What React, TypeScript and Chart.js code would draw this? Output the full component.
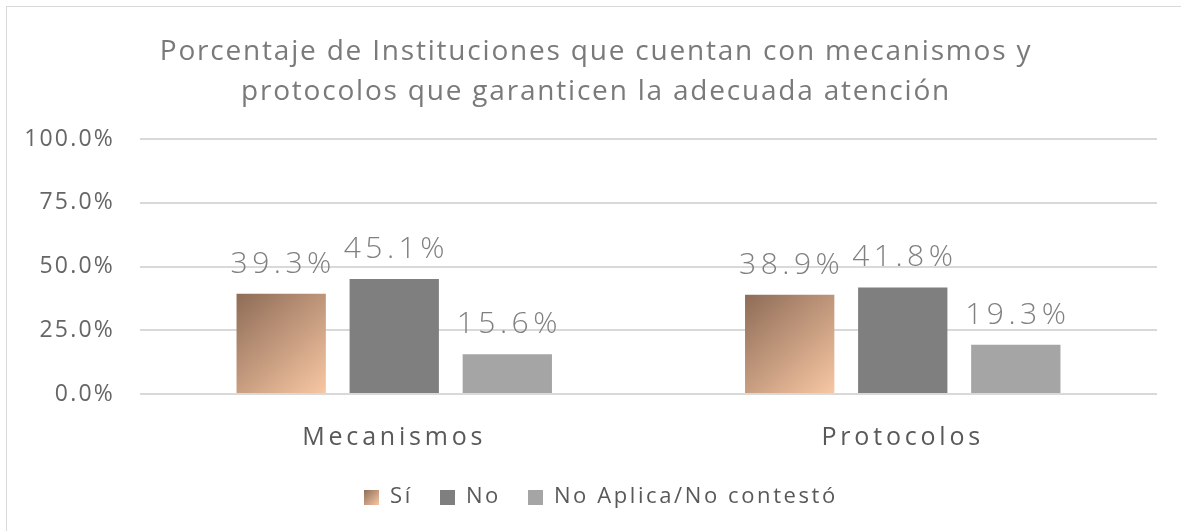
import { useEffect, useRef } from 'react';
import { Chart, registerables } from 'chart.js';

Chart.register(...registerables);

const categories = ['Mecanismos', 'Protocolos'];
const seriesNames = ['Sí', 'No', 'No Aplica/No contestó'];
const siValues = [39.3, 38.9];
const noValues = [45.1, 41.8];
const naValues = [15.6, 19.3];
const titleLines = [
  'Porcentaje de Instituciones que cuentan con mecanismos y',
  'protocolos que garanticen la adecuada atención',
];
const yMax = 100;
const yStep = 25;

const FONT = '"Open Sans", "Noto Sans", sans-serif';
const SI_DARK = '#8e6c57';
const SI_LIGHT = '#f8c7a3';
const NO_COLOR = '#7f7f7f';
const NA_COLOR = '#a5a5a5';

const SPACING = {
  title: '1.8px',
  legend: '2.6px',
  xLabels: '3.8px',
  yLabels: '2.2px',
  data: '4.5px',
};

function makeBox(fill: (ctx: CanvasRenderingContext2D, s: number) => void, size = 15) {
  const c = document.createElement('canvas');
  c.width = size;
  c.height = size;
  const cx = c.getContext('2d')!;
  fill(cx, size);
  return c;
}

function wrapSpacing(obj: any, method: string, spacing: string, dx = 0) {
  if (!obj || typeof obj[method] !== 'function') return;
  const flag = '__spaced_' + method;
  if (obj[flag]) return;
  const orig = obj[method];
  obj[method] = function (...args: any[]) {
    const ctx = this.ctx as any;
    const prev = ctx.letterSpacing;
    ctx.letterSpacing = spacing;
    if (dx) {
      ctx.save();
      ctx.translate(dx, 0);
    }
    try {
      return orig.apply(this, args);
    } finally {
      if (dx) ctx.restore();
      ctx.letterSpacing = prev;
    }
  };
  obj[flag] = true;
}

const spacingPlugin = {
  id: 'letterSpacing',
  beforeLayout(chart: any) {
    wrapSpacing(chart.legend, 'fit', SPACING.legend);
    wrapSpacing(chart.legend, 'draw', SPACING.legend, 5);
    wrapSpacing(chart.titleBlock, 'draw', SPACING.title);
  },
  beforeDraw(chart: any) {
    wrapSpacing(chart.scales.x, 'drawLabels', SPACING.xLabels);
    wrapSpacing(chart.scales.y, 'drawLabels', SPACING.yLabels);
    // let the y tick labels extend past the axis box (no clipping)
    chart.scales.y._computeLabelArea = () => undefined;
  },
};

const gradientPlugin = {
  id: 'siGradient',
  afterUpdate(chart: any) {
    const meta = chart.getDatasetMeta(0);
    const ctx = chart.ctx as CanvasRenderingContext2D;
    meta.data.forEach((el: any) => {
      const { x, y, width, base } = el.getProps(['x', 'y', 'width', 'base'], true);
      const g = ctx.createLinearGradient(x - width / 2, y, x + width / 2, base);
      g.addColorStop(0, SI_DARK);
      g.addColorStop(1, SI_LIGHT);
      el.options = Object.assign({}, el.options, { backgroundColor: g });
    });
  },
};

const dataLabelPlugin = {
  id: 'dataLabels',
  afterDatasetsDraw(chart: any) {
    const ctx = chart.ctx as any;
    ctx.save();
    ctx.font = `300 30px ${FONT}`;
    ctx.letterSpacing = SPACING.data;
    ctx.fillStyle = '#808080';
    ctx.textAlign = 'center';
    ctx.textBaseline = 'alphabetic';
    chart.data.datasets.forEach((ds: any, i: number) => {
      chart.getDatasetMeta(i).data.forEach((el: any, j: number) => {
        ctx.fillText(Number(ds.data[j]).toFixed(1) + '%', el.x + 2, el.y - 21);
      });
    });
    ctx.restore();
  },
};

export default function App() {
  const ref = useRef<HTMLCanvasElement>(null);

  useEffect(() => {
    if (!ref.current) return;
    const siBox = makeBox((cx, s) => {
      const g = cx.createLinearGradient(0, 0, s, s);
      g.addColorStop(0, SI_DARK);
      g.addColorStop(1, SI_LIGHT);
      cx.fillStyle = g;
      cx.fillRect(0, 0, s, s);
    });
    const noBox = makeBox((cx, s) => {
      cx.fillStyle = NO_COLOR;
      cx.fillRect(0, 0, s, s);
    });
    const naBox = makeBox((cx, s) => {
      cx.fillStyle = NA_COLOR;
      cx.fillRect(0, 0, s, s);
    });
    const boxes = [siBox, noBox, naBox];

    const chart = new Chart(ref.current, {
      type: 'bar',
      data: {
        labels: categories,
        datasets: [
          { label: seriesNames[0], data: siValues, backgroundColor: '#c89a7c' },
          { label: seriesNames[1], data: noValues, backgroundColor: NO_COLOR },
          { label: seriesNames[2], data: naValues, backgroundColor: NA_COLOR },
        ],
      },
      options: {
        responsive: false,
        animation: false,
        events: [],
        datasets: {
          bar: { categoryPercentage: 0.667, barPercentage: 0.79 },
        },
        layout: { padding: { left: 35, right: 24, top: 0, bottom: 13 } },
        plugins: {
          title: {
            display: true,
            text: titleLines,
            color: '#7a7a7a',
            font: { family: FONT, size: 28, weight: 'normal', lineHeight: 40 / 28 },
            padding: { top: 32, bottom: 27 },
          },
          legend: {
            position: 'bottom',
            labels: {
              usePointStyle: true,
              boxWidth: 15,
              boxHeight: 15,
              padding: 27,
              color: '#595959',
              font: { family: FONT, size: 22 },
              generateLabels: () =>
                seriesNames.map((name, i) => ({
                  text: name,
                  pointStyle: boxes[i] as any,
                  fillStyle: 'transparent',
                  strokeStyle: 'transparent',
                  lineWidth: 0,
                  hidden: false,
                  datasetIndex: i,
                  fontColor: '#595959',
                })),
            },
          },
          tooltip: { enabled: false },
        },
        scales: {
          x: {
            grid: { display: false, drawTicks: false },
            border: { display: false },
            ticks: {
              color: '#595959',
              font: { family: FONT, size: 25 },
              padding: 29,
            },
            afterFit: (s: any) => {
              s.height = 65;
            },
          },
          y: {
            min: 0,
            max: yMax,
            grid: { color: '#d9d9d9', lineWidth: 2, drawTicks: false },
            border: { display: false },
            ticks: {
              stepSize: yStep,
              color: '#666666',
              font: { family: FONT, size: 23 },
              padding: 25,
              callback: (v: any) => Number(v).toFixed(1) + '%',
            },
            afterFit: (s: any) => {
              s.width = 105;
            },
          },
        },
      },
      plugins: [spacingPlugin, gradientPlugin, dataLabelPlugin],
    });
    return () => chart.destroy();
  }, []);

  return (
    <div
      style={{
        position: 'fixed',
        left: 0,
        top: 0,
        width: 1181,
        height: 531,
        overflow: 'hidden',
        background: '#ffffff',
      }}
    >
      <div
        style={{
          position: 'absolute',
          left: 6,
          top: 6,
          width: 1250,
          height: 600,
          border: '1px solid #d9d9d9',
          boxSizing: 'border-box',
        }}
      />
      <canvas
        ref={ref}
        width={1181}
        height={531}
        style={{ position: 'absolute', left: 0, top: 0, width: 1181, height: 531 }}
      />
    </div>
  );
}
